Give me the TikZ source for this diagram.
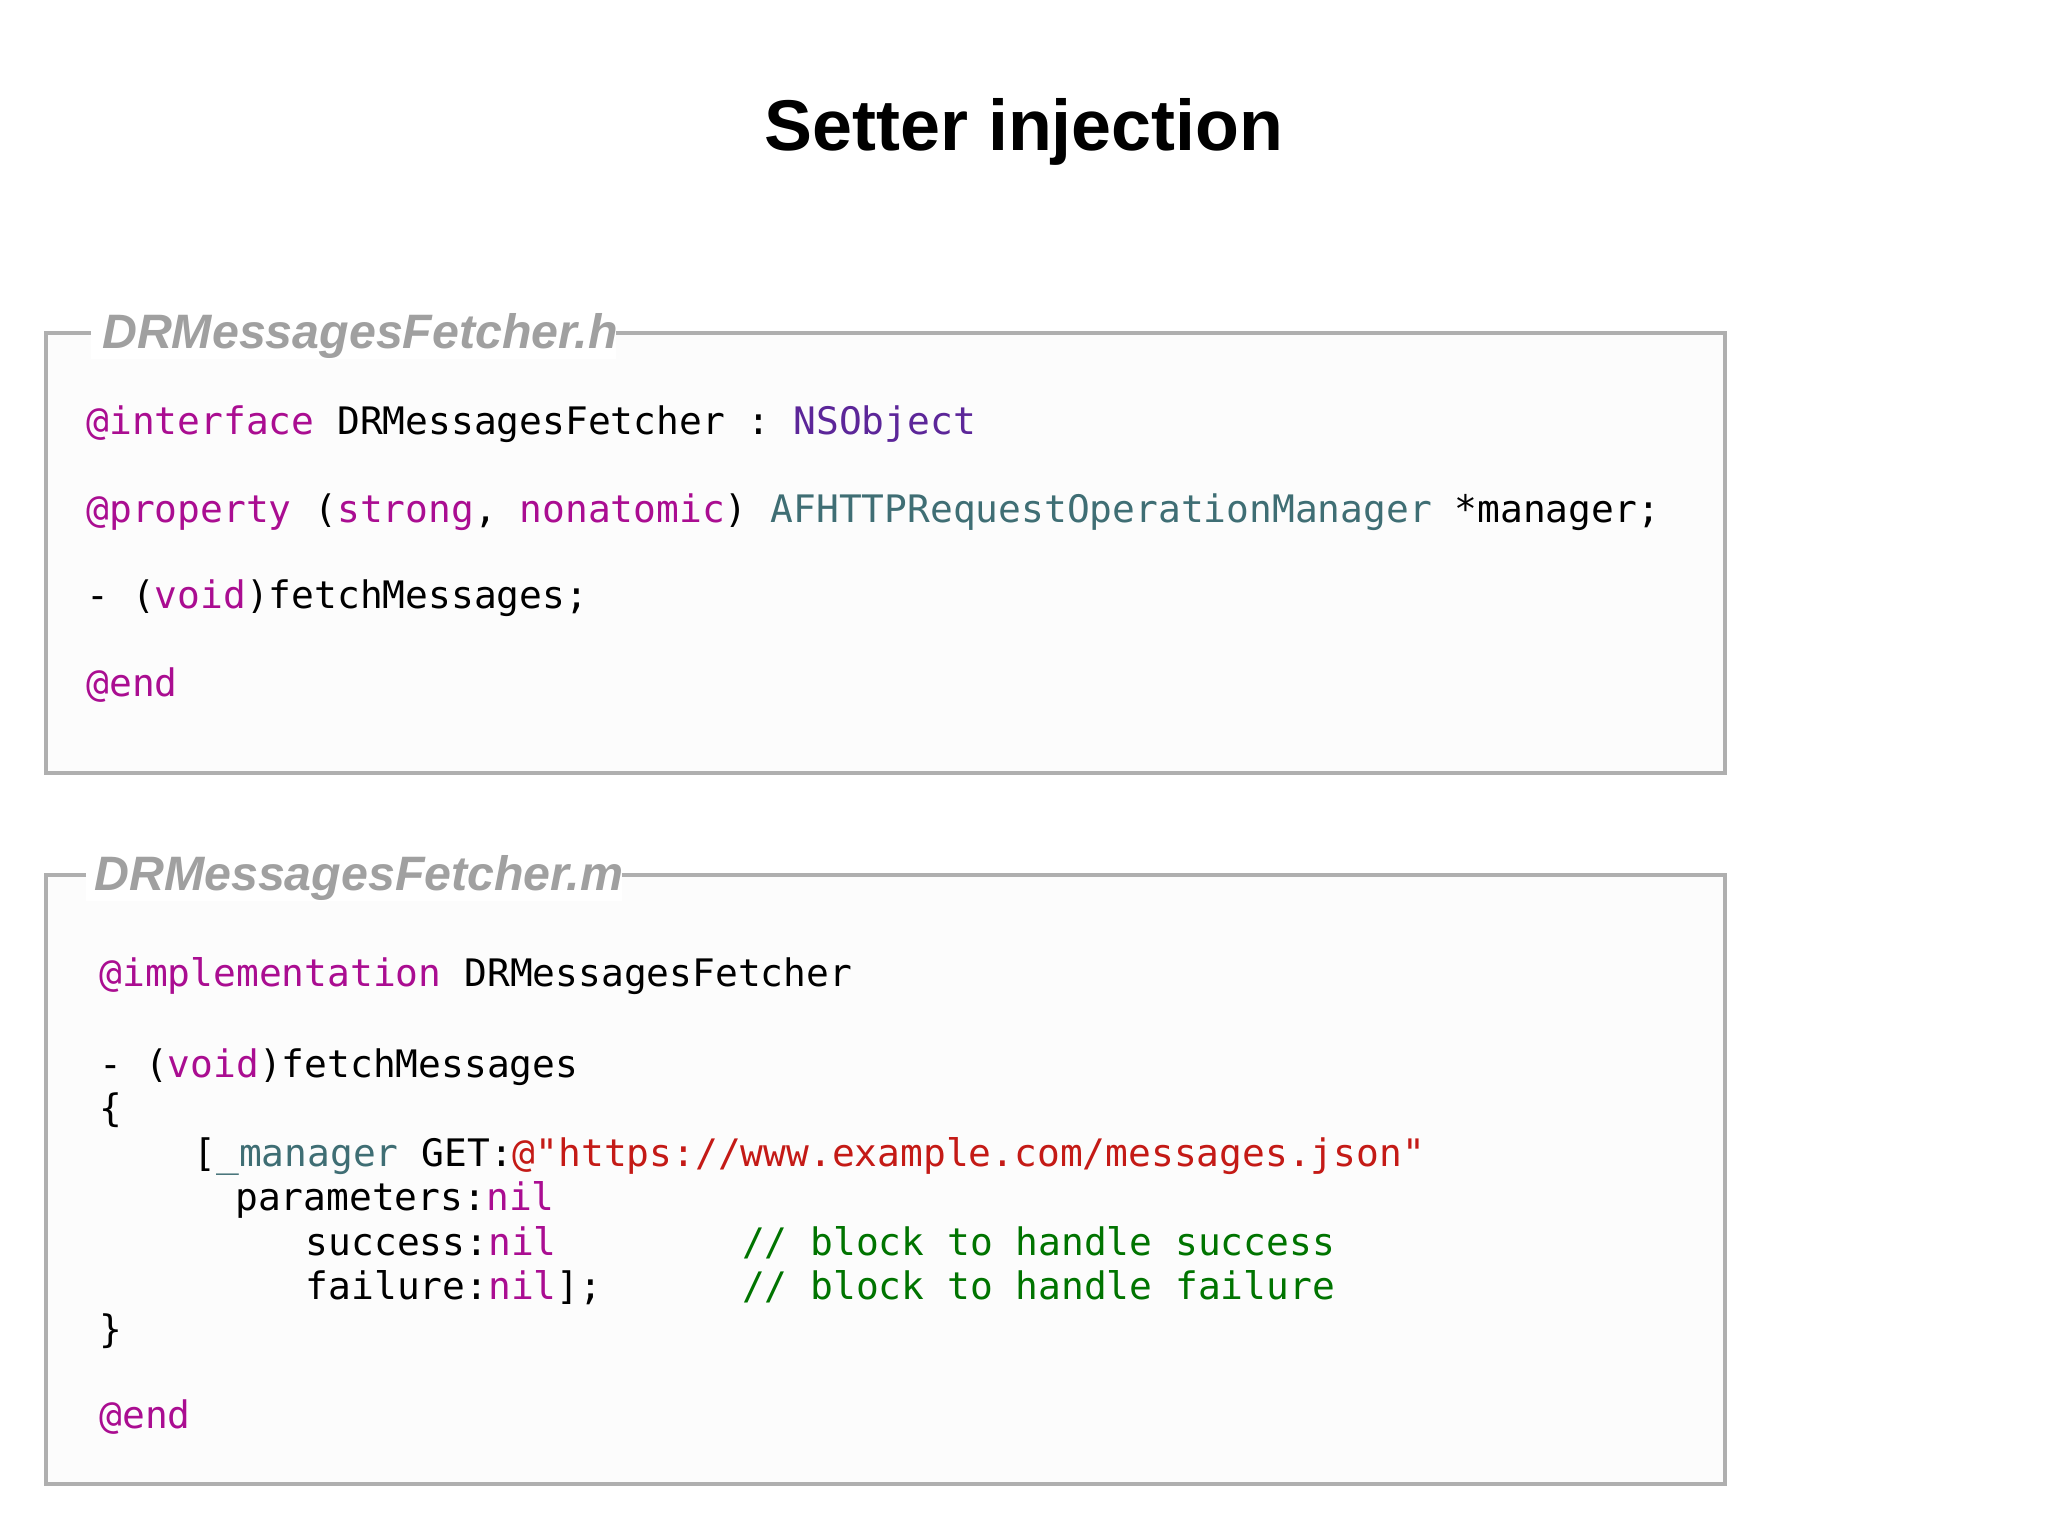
\documentclass[tikz,border=0pt]{standalone}
\usepackage{fontspec}
\setmainfont{Liberation Sans}
\setmonofont{DejaVu Sans Mono}
\definecolor{kw}{RGB}{170,13,145}
\definecolor{cls}{RGB}{92,38,153}
\definecolor{typ}{RGB}{63,110,116}
\definecolor{str}{RGB}{196,26,22}
\definecolor{cmt}{RGB}{0,116,0}
\definecolor{frame}{RGB}{175,175,175}
\definecolor{lbl}{RGB}{160,160,160}
\newcommand{\kwd}[1]{\textcolor{kw}{#1}}
\begin{document}
\begin{tikzpicture}[x=1pt,y=-1pt,
  code/.style={anchor=base west,inner sep=0pt,font=\fontsize{29}{33}\selectfont\ttfamily},
  boxframe/.style={draw=frame,line width=3pt,fill=black!1},
  lab/.style={anchor=base west,inner sep=0pt,text=lbl,font=\fontsize{37}{40}\selectfont\bfseries\itshape}]
\useasboundingbox[fill=white] (0,0) rectangle (1568,1176);
\node[inner sep=0pt,font=\fontsize{55}{60}\selectfont\bfseries] (title) at (784,101) {Setter injection};
% box 1
\draw[boxframe] (35,255) rectangle (1321,592);
\fill[white] (70,235) rectangle (472,275);
\draw[frame,line width=1.5pt] (48,255) -- (66,255);
\node[lab] (l1) at (78,267) {DRMessagesFetcher.h};
\node[code] (a1) at (66,333) {\kwd{@interface} DRMessagesFetcher : \textcolor{cls}{NSObject}};
\node[code] (a2) at (66,400) {\kwd{@property} (\kwd{strong}, \kwd{nonatomic}) \textcolor{typ}{AFHTTPRequestOperationManager} *manager;};
\node[code] (a3) at (66,466) {- (\kwd{void})fetchMessages;};
\node[code] (a4) at (66,533) {\kwd{@end}};
% box 2
\draw[boxframe] (35,670) rectangle (1321,1136);
\fill[white] (66,650) rectangle (476,690);
\draw[frame,line width=1.5pt] (48,670) -- (62,670);
\node[lab] (l2) at (72,682) {DRMessagesFetcher.m};
\node[code] (b1) at (76,755) {\kwd{@implementation} DRMessagesFetcher};
\node[code] (b2) at (76,825) {- (\kwd{void})fetchMessages};
\node[code] (b3) at (76,859) {\{};
\node[code] (b4) at (148,893) {[\textcolor{typ}{\_manager} GET:\textcolor{str}{@"https://www.example.com/messages.json"}};
\node[code] (b5) at (180,927) {parameters:\kwd{nil}};
\node[code] (b6) at (234,961) {success:\kwd{nil}};
\node[code] (b7) at (234,995) {failure:\kwd{nil}];};
\node[code,text=cmt] (c1) at (568,961) {// block to handle success};
\node[code,text=cmt] (c2) at (568,995) {// block to handle failure};
\node[code] (b8) at (76,1028) {\}};
\node[code] (b9) at (76,1094) {\kwd{@end}};
\end{tikzpicture}
\end{document}
